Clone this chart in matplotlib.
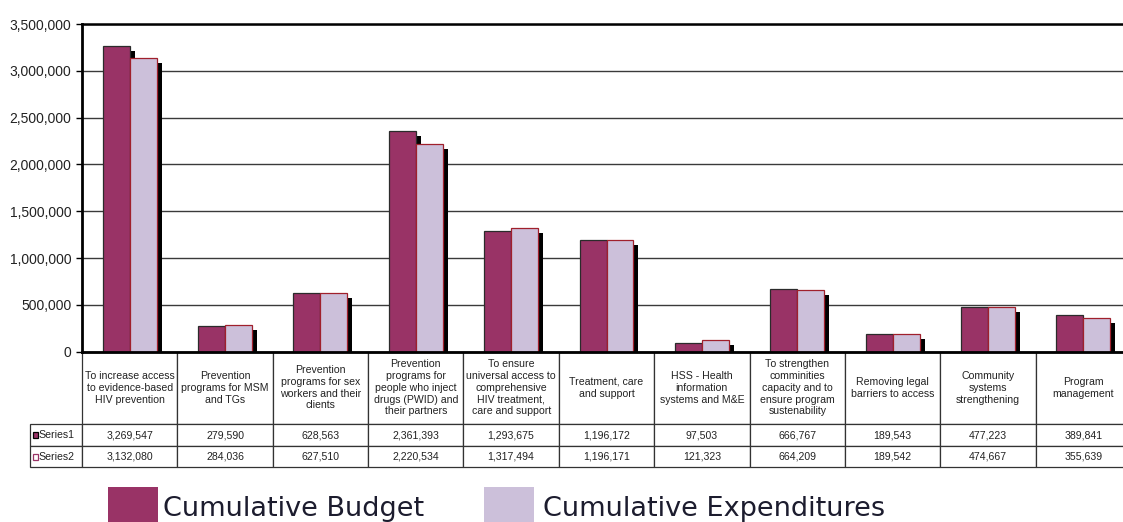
import matplotlib
matplotlib.use("Agg")
import matplotlib.pyplot as plt
from matplotlib.patches import Rectangle
from matplotlib.ticker import FuncFormatter, MultipleLocator
import numpy as np

categories = [
    "To increase access\nto evidence-based\nHIV prevention",
    "Prevention\nprograms for MSM\nand TGs",
    "Prevention\nprograms for sex\nworkers and their\nclients",
    "Prevention\nprograms for\npeople who inject\ndrugs (PWID) and\ntheir partners",
    "To ensure\nuniversal access to\ncomprehensive\nHIV treatment,\ncare and support",
    "Treatment, care\nand support",
    "HSS - Health\ninformation\nsystems and M&E",
    "To strengthen\ncomminities\ncapacity and to\nensure program\nsustenability",
    "Removing legal\nbarriers to access",
    "Community\nsystems\nstrengthening",
    "Program\nmanagement",
]
budget = [3269547, 279590, 628563, 2361393, 1293675, 1196172, 97503, 666767, 189543, 477223, 389841]
expenditures = [3132080, 284036, 627510, 2220534, 1317494, 1196171, 121323, 664209, 189542, 474667, 355639]
series_names = ["Series1", "Series2"]
legend_labels = ["Cumulative Budget", "Cumulative Expenditures"]

c_budget = "#993366"
c_exp = "#ccc0da"

W, H = 1123, 522
fig = plt.figure(figsize=(W / 100, H / 100), dpi=100)
fig.patch.set_facecolor("white")

# axes in pixel terms: left 82, zero at 351.7, top at 24, right runs a bit past the image
ax_l, ax_r, ax_t, ax_b = 82, 1131, 24, 351.7
ax_w, ax_h = ax_r - ax_l, ax_b - ax_t
ax = fig.add_axes([ax_l / W, (H - ax_b) / H, ax_w / W, ax_h / H])

x = np.arange(len(categories))
bw = 0.283
ymax = 3500000
px_x = len(categories) / ax_w           # one pixel in x data units
px_y = ymax / ax_h                      # one pixel in y data units

# shadows
ax.bar(x - bw / 2 + 5 * px_x, np.array(budget) - 5 * px_y, bw, color="black", zorder=2)
ax.bar(x + bw / 2 + 5 * px_x, np.array(expenditures) - 5 * px_y, bw, color="black", zorder=2)
# bars
ax.bar(x - bw / 2, budget, bw, color=c_budget, edgecolor="#2b2b2b", linewidth=0.9, zorder=3)
ax.bar(x + bw / 2, expenditures, bw, color=c_exp, edgecolor="#a0202c", linewidth=0.9, zorder=4)

ax.set_xlim(-0.5, len(categories) - 0.5)
ax.set_ylim(0, ymax)
ax.yaxis.set_major_locator(MultipleLocator(500000))
ax.yaxis.set_major_formatter(FuncFormatter(lambda v, p: f"{int(v):,}"))
ax.yaxis.grid(True, color="#3a3a3a", linewidth=1.0, zorder=1)
ax.set_axisbelow(True)
ax.set_xticks([])
ax.tick_params(axis="y", direction="out", length=4.5, width=1.0, color="black",
               labelsize=10, labelcolor="#222222", pad=3)
for lab in ax.get_yticklabels():
    lab.set_family("Liberation Sans")
ax.spines["right"].set_visible(False)
ax.spines["top"].set_linewidth(1.8)
ax.spines["left"].set_linewidth(2.0)
ax.spines["bottom"].set_linewidth(2.0)
for s in ["top", "left", "bottom"]:
    ax.spines[s].set_color("black")
    ax.spines[s].set_zorder(5)

# data table under the plot; first column holds the series labels (drawn below)
label_w = 52
col_w = ax_w / len(categories)
cell_text = [[""] + [f"{v:,}" for v in budget], [""] + [f"{v:,}" for v in expenditures]]
tbl_h = (467 - ax_b) / ax_h
tbl = ax.table(cellText=cell_text, colLabels=[""] + categories,
               cellLoc="center", colLoc="center",
               colWidths=[label_w / ax_w] + [col_w / ax_w] * len(categories),
               bbox=[-label_w / ax_w, -tbl_h, (ax_w + label_w) / ax_w, tbl_h])
tbl.auto_set_font_size(False)
tbl.set_fontsize(7.6)
row_h = [424 - ax_b, 22, 21]
for (r, c), cell in tbl.get_celld().items():
    cell.set_height(row_h[r] / ax_h)
    cell.set_edgecolor("#333333")
    cell.set_linewidth(0.9)
    cell.get_text().set_family("Liberation Sans")
    cell.get_text().set_color("#222222")
    if r == 0:
        cell.get_text().set_linespacing(1.22)
tbl[0, 0].visible_edges = ""

# row labels with their little series keys
y_rows = [(424 + 446) / 2, (446 + 467) / 2]
keys = [(c_budget, "black"), ("white", c_budget)]
for name, yr, (fc, ec) in zip(series_names, y_rows, keys):
    fig.add_artist(Rectangle((33 / W, (H - yr - 3) / H), 5 / W, 6 / H, transform=fig.transFigure,
                             facecolor=fc, edgecolor=ec, linewidth=0.9, zorder=10))
    fig.text(38.5 / W, (H - yr) / H, name, fontsize=7.6, family="Liberation Sans",
             color="#222222", va="center", ha="left")

# legend
for (lx, tx), col, txt in zip([(107.7, 163), (484, 543.3)], [c_budget, c_exp], legend_labels):
    fig.add_artist(Rectangle((lx / W, 0), 50 / W, (H - 486.5) / H, transform=fig.transFigure,
                             facecolor=col, edgecolor="none"))
    fig.text(tx / W, (H - 515.5) / H, txt, fontsize=19.5, family="DejaVu Sans",
             color="#1c1c2e", va="baseline", ha="left")

fig.savefig("out.png", dpi=100)
